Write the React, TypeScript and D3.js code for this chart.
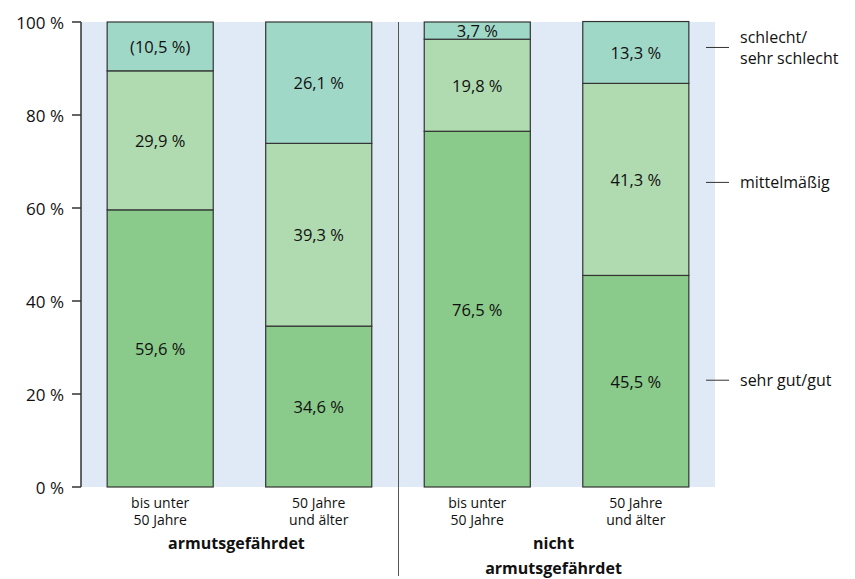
import React from "react";
import * as d3 from "d3";

const categories = ["bis unter\n50 Jahre", "50 Jahre\nund älter", "bis unter\n50 Jahre", "50 Jahre\nund älter"];
const groups = ["armutsgefährdet", "nicht\narmutsgefährdet"];
const seriesNames = ["sehr gut/gut", "mittelmäßig", "schlecht/\nsehr schlecht"];
const sehrGut = [59.6, 34.6, 76.5, 45.5];
const mittel = [29.9, 39.3, 19.8, 41.3];
const schlecht = [10.5, 26.1, 3.7, 13.3];
const labels = [
  ["59,6 %", "34,6 %", "76,5 %", "45,5 %"],
  ["29,9 %", "39,3 %", "19,8 %", "41,3 %"],
  ["(10,5 %)", "26,1 %", "3,7 %", "13,3 %"],
];
const yTicks = [0, 20, 40, 60, 80, 100];

const colors = ["#8aca8a", "#b0dab0", "#a0d8c8"];
const FONT = "'Open Sans', 'DejaVu Sans', sans-serif";

export default function App() {
  const W = 855, H = 579;
  const y = d3.scaleLinear().domain([0, 100]).range([487, 22]);
  const x = d3.scaleBand().domain(d3.range(4).map(String)).range([81, 715]).paddingInner(0.331).paddingOuter(0.165);
  const series = [sehrGut, mittel, schlecht];
  const stack = d3.stack<number>().keys(["0", "1", "2"]).value((i, k) => series[+k][i]);
  const stacked = stack(d3.range(4));
  const bw = x.bandwidth();
  const cx = (i: number) => (x(String(i)) as number) + bw / 2;
  const divX = Math.round(((x("1") as number) + bw + (x("2") as number)) / 2) + 0.5;

  return (
    <svg width={W} height={H} style={{ display: "block", position: "absolute", left: 0, top: 0 }} fontFamily={FONT}>
      <rect x={81} y={y(100)} width={715 - 81} height={y(0) - y(100)} fill="#dfeaf6" />
      {stacked.map((s, si) =>
        s.map((d, i) => (
          <g key={si + "-" + i}>
            <rect x={x(String(i))} y={y(d[1])} width={bw} height={y(d[0]) - y(d[1])} fill={colors[si]} stroke="#333" strokeWidth={1.2} />
            <text x={cx(i)} y={(y(d[0]) + y(d[1])) / 2} textAnchor="middle" dominantBaseline="central" fontSize={16.5} fill="#111">
              {labels[si][i]}
            </text>
          </g>
        ))
      )}
      <line x1={81} x2={81} y1={y(100)} y2={y(0)} stroke="#333" strokeWidth={1.5} />
      {yTicks.map((t) => (
        <g key={t}>
          <line x1={72} x2={81} y1={y(t)} y2={y(t)} stroke="#333" strokeWidth={1.5} />
          <text x={64} y={y(t)} textAnchor="end" dominantBaseline="central" fontSize={17} fill="#111">
            {t} %
          </text>
        </g>
      ))}
      <line x1={divX} x2={divX} y1={y(100)} y2={576} stroke="#555" strokeWidth={1} />
      {categories.map((c, i) =>
        c.split("\n").map((ln, li) => (
          <text key={i + "-" + li} x={cx(i)} y={502 + li * 17.5} textAnchor="middle" dominantBaseline="central" fontSize={14} fill="#111">
            {ln}
          </text>
        ))
      )}
      {groups.map((g, gi) => {
        const gx = (cx(gi * 2) + cx(gi * 2 + 1)) / 2 - 3;
        return g.split("\n").map((ln, li) => (
          <text key={gi + "-" + li} x={gx} y={543 + li * 25} textAnchor="middle" dominantBaseline="central" fontSize={16} fontWeight="bold" fill="#111">
            {ln}
          </text>
        ));
      })}
      {stacked.map((s, si) => {
        const d = s[3];
        const ly = (y(d[0]) + y(d[1])) / 2 + (si === 2 ? -5 : si === 1 ? 3 : -1);
        const lines = seriesNames[si].split("\n");
        return (
          <g key={"lg" + si}>
            <line x1={706} x2={729} y1={ly} y2={ly} stroke="#333" strokeWidth={1} />
            {lines.map((ln, li) => (
              <text key={li} x={740} y={ly + (li - (lines.length - 1) / 2) * 21} dominantBaseline="central" fontSize={16} fill="#111">
                {ln}
              </text>
            ))}
          </g>
        );
      })}
    </svg>
  );
}
